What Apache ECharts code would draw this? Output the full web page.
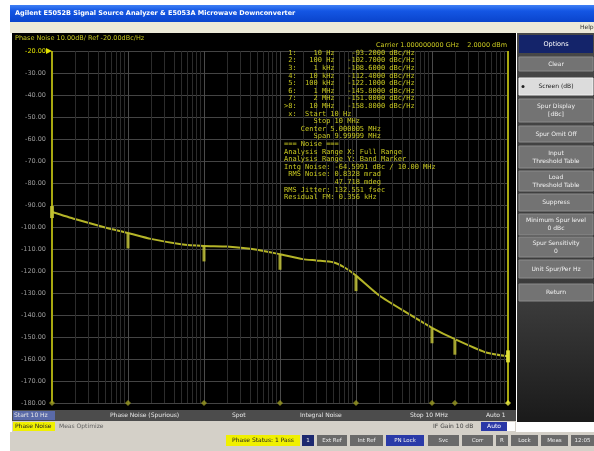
<!DOCTYPE html>
<html>
<head>
<meta charset="utf-8">
<script src="https://cdn.jsdelivr.net/npm/echarts@6/dist/echarts.min.js"></script>
<style>
html,body{margin:0;padding:0;background:#fff;}
#c{width:594px;height:451px;}
</style>
</head>
<body>
<div id="c"></div>
<script>
// Offset frequency (Hz) and measured SSB phase noise (dBc/Hz)
const offsetHz = [10, 20, 50, 100, 200, 500, 1e3, 2e3, 5e3, 1e4, 2e4, 3e4, 5e4, 7e4,
                  1e5, 2e5, 5e5, 1e6, 2e6, 5e6, 1e7];
const noiseDbc = [-93.2, -96.4, -100.2, -102.7, -105.4, -107.8, -108.6, -108.9, -110.3,
                  -112.4, -114.6, -115.2, -116.0, -118.3, -122.1, -131.0, -139.6, -145.8,
                  -151.0, -156.9, -158.8];

// Marker positions (offsets) and their display labels
const markerHz = [10, 100, 1e3, 1e4, 1e5, 1e6, 2e6, 1e7];
const markerFreqText = ['10 Hz', '100 Hz', '1 kHz', '10 kHz', '100 kHz', '1 MHz', '2 MHz', '10 MHz'];
const activeMarker = 8;

// Y scale
const refLevel = -20, bottomLevel = -180, dbPerDiv = 10;
const carrierHz = 1e9;

// Softkey labels of the right-hand menu
const softkeys = ['Clear', 'Screen (dB)', 'Spur Display\n[dBc]', 'Spur Omit Off',
  'Input\nThreshold Table', 'Load\nThreshold Table', 'Suppress',
  'Minimum Spur level\n0 dBc', 'Spur Sensitivity\n0', 'Unit Spur/Per Hz', 'Return'];

const YEL = '#c8c820';

function valueAt(f) {
  const i = offsetHz.indexOf(f);
  return noiseDbc[i];
}

// integrate phase noise over the measured span (piecewise power law)
function integrate(order) {
  let s = 0;
  for (let i = 0; i < offsetHz.length - 1; i++) {
    const f1 = offsetHz[i], f2 = offsetHz[i + 1];
    const a1 = Math.pow(10, noiseDbc[i] / 10);
    const b = (noiseDbc[i + 1] - noiseDbc[i]) / 10 / Math.log10(f2 / f1);
    const p = b + 1 + order;
    const k = a1 * Math.pow(f1, 1 + order);
    s += Math.abs(p) < 1e-9 ? k * Math.log(f2 / f1) : k / p * (Math.pow(f2 / f1, p) - 1);
  }
  return s;
}
const pnInt = integrate(0);
const intgDb = 10 * Math.log10(pnInt);
const rmsRad = Math.sqrt(2 * pnInt);
const rmsDeg = rmsRad * 180 / Math.PI;
const jitterFs = rmsRad / (2 * Math.PI * carrierHz) * 1e15;
const resFm = Math.sqrt(2 * integrate(2));

const tableLines = [];
markerHz.forEach((f, i) => {
  const id = ((i + 1) === activeMarker ? '>' : ' ') + (i + 1) + ':';
  tableLines.push(id + ' ' + markerFreqText[i].padStart(8) + '   ' +
    valueAt(f).toFixed(4).padStart(9) + ' dBc/Hz');
});
tableLines.push(' x:  Start 10 Hz');
tableLines.push('       Stop 10 MHz');
tableLines.push('    Center 5.000005 MHz');
tableLines.push('       Span 9.99999 MHz');
tableLines.push('=== Noise ===');
tableLines.push('Analysis Range X: Full Range');
tableLines.push('Analysis Range Y: Band Marker');
tableLines.push('Intg Noise: ' + intgDb.toFixed(4) + ' dBc / 10.00 MHz');
tableLines.push(' RMS Noise: ' + (rmsRad * 1000).toFixed(4) + ' mrad');
tableLines.push('            ' + (rmsDeg * 1000).toFixed(3) + ' mdeg');
tableLines.push('RMS Jitter: ' + jitterFs.toFixed(3) + ' fsec');
tableLines.push('Residual FM: ' + (resFm / 1000).toFixed(3) + ' kHz');

// minor log grid lines (2..9 per decade)
const minorLines = [];
for (let d = 10; d < 1e7; d *= 10) {
  for (let m = 2; m <= 9; m++) minorLines.push({ xAxis: d * m });
}

const graphics = [];
// window chrome
graphics.push({ type: 'rect', z: -10, shape: { x: 10, y: 5, width: 584, height: 17 },
  style: { fill: new echarts.graphic.LinearGradient(0, 0, 0, 1, [
    { offset: 0, color: '#3f80f5' }, { offset: 0.35, color: '#1456e4' }, { offset: 1, color: '#0a44cc' }]) } });
graphics.push({ type: 'text', z: 50, x: 15, y: 13.5, style: {
  text: 'Agilent E5052B Signal Source Analyzer & E5053A Microwave Downconverter',
  fill: '#ffffff', font: 'bold 6.5px "DejaVu Sans"', textVerticalAlign: 'middle' } });
graphics.push({ type: 'rect', z: -10, shape: { x: 10, y: 22, width: 584, height: 11 },
  style: { fill: '#ece9d8' } });
graphics.push({ type: 'text', z: 50, x: 580, y: 27.5, style: {
  text: 'Help', fill: '#333', font: '6px "DejaVu Sans"', textVerticalAlign: 'middle' } });
// instrument display
graphics.push({ type: 'rect', z: -10, shape: { x: 12, y: 33, width: 504, height: 378 },
  style: { fill: '#000000' } });
graphics.push({ type: 'text', z: 50, x: 15, y: 38.5, style: {
  text: 'Phase Noise 10.00dB/ Ref -20.00dBc/Hz', fill: YEL,
  font: '6.5px "DejaVu Sans"', textVerticalAlign: 'middle' } });
graphics.push({ type: 'text', z: 50, x: 507, y: 45.5, style: {
  text: 'Carrier 1.000000000 GHz    2.0000 dBm', fill: YEL,
  font: '6.5px "DejaVu Sans"', textAlign: 'right', textVerticalAlign: 'middle' } });
graphics.push({ type: 'polygon', z: 50, shape: { points: [[46, 48], [46, 54], [52, 51]] },
  style: { fill: '#e0e000' } });
// marker table
tableLines.forEach((t, i) => {
  graphics.push({ type: 'text', z: 50, x: 284, y: 53 + i * 7.6, style: {
    text: t, fill: YEL, font: '7px "DejaVu Sans Mono"', textVerticalAlign: 'middle' } });
});
// right-hand softkey panel
graphics.push({ type: 'rect', z: -10, shape: { x: 517, y: 33, width: 77, height: 389 },
  style: { fill: new echarts.graphic.LinearGradient(0, 0, 0, 1, [
    { offset: 0, color: '#484848' }, { offset: 0.7, color: '#3a3a3a' }, { offset: 1, color: '#1a1a1a' }]) } });
graphics.push({ type: 'rect', z: -5, shape: { x: 519, y: 35, width: 74, height: 18 },
  style: { fill: '#14246a' } });
graphics.push({ type: 'text', z: 50, x: 556, y: 44, style: {
  text: 'Options', fill: '#ffffff', font: '6.5px "DejaVu Sans"', textAlign: 'center', textVerticalAlign: 'middle' } });
const keyTops = [57, 78, 99, 126, 146, 171, 194, 214, 237, 260, 284];
const keyHeights = [14, 17, 23, 16, 22, 20, 17, 21, 20, 18, 17];
softkeys.forEach((k, i) => {
  const sel = i === 1;
  graphics.push({ type: 'rect', z: -5, shape: { x: 519, y: keyTops[i], width: 74, height: keyHeights[i] },
    style: { fill: sel ? '#dcdcdc' : '#737373', stroke: sel ? '#f0f0f0' : '#8c8c8c', lineWidth: 1 } });
  graphics.push({ type: 'text', z: 50, x: 556, y: keyTops[i] + keyHeights[i] / 2, style: {
    text: k, fill: sel ? '#202020' : '#f2f2f2', font: '6px "DejaVu Sans"', lineHeight: 8,
    textAlign: 'center', textVerticalAlign: 'middle' } });
});
graphics.push({ type: 'circle', z: 50, shape: { cx: 523, cy: 86.5, r: 1.5 }, style: { fill: '#202020' } });
// status rows under the display
graphics.push({ type: 'rect', z: -10, shape: { x: 12, y: 410, width: 504, height: 11 },
  style: { fill: '#4c4c4c' } });
[['Start 10 Hz', 14], ['Phase Noise (Spurious)', 110], ['Spot', 232], ['Integral Noise', 300],
 ['Stop 10 MHz', 410], ['Auto 1', 486]].forEach(([t, x], i) => {
  if (i === 0) graphics.push({ type: 'rect', z: -5, shape: { x: 13, y: 411, width: 42, height: 9 },
    style: { fill: '#5a6aa8' } });
  graphics.push({ type: 'text', z: 50, x: x, y: 415.5, style: {
    text: t, fill: '#e8e8e8', font: '6px "DejaVu Sans"', textVerticalAlign: 'middle' } });
});
graphics.push({ type: 'rect', z: -10, shape: { x: 12, y: 421, width: 504, height: 11 },
  style: { fill: '#d4d0c8' } });
graphics.push({ type: 'rect', z: -5, shape: { x: 13, y: 422, width: 42, height: 9 },
  style: { fill: '#f0f000' } });
graphics.push({ type: 'text', z: 50, x: 15, y: 426.5, style: {
  text: 'Phase Noise', fill: '#202020', font: '6px "DejaVu Sans"', textVerticalAlign: 'middle' } });
graphics.push({ type: 'text', z: 50, x: 59, y: 426.5, style: {
  text: 'Meas Optimize', fill: '#606060', font: '6px "DejaVu Sans"', textVerticalAlign: 'middle' } });
graphics.push({ type: 'text', z: 50, x: 433, y: 426.5, style: {
  text: 'IF Gain 10 dB', fill: '#404040', font: '6px "DejaVu Sans"', textVerticalAlign: 'middle' } });
graphics.push({ type: 'rect', z: -5, shape: { x: 481, y: 422, width: 26, height: 9 },
  style: { fill: '#2a38a8' } });
graphics.push({ type: 'text', z: 50, x: 494, y: 426.5, style: {
  text: 'Auto', fill: '#ffffff', font: '6px "DejaVu Sans"', textAlign: 'center', textVerticalAlign: 'middle' } });
graphics.push({ type: 'rect', z: -5, shape: { x: 507, y: 422, width: 8, height: 9 },
  style: { fill: '#ffffff' } });
graphics.push({ type: 'rect', z: -10, shape: { x: 10, y: 432, width: 584, height: 19 },
  style: { fill: '#d4d0c8' } });
graphics.push({ type: 'rect', z: -5, shape: { x: 226, y: 435, width: 74, height: 11 },
  style: { fill: '#f0f000' } });
graphics.push({ type: 'text', z: 50, x: 263, y: 440.5, style: {
  text: 'Phase Status: 1 Pass', fill: '#202020', font: '6px "DejaVu Sans"', textAlign: 'center', textVerticalAlign: 'middle' } });
[[302, 12, '1', '#1c2870'], [317, 30, 'Ext Ref', '#6a6a6a'], [350, 33, 'Int Ref', '#6a6a6a'],
 [386, 38, 'PN Lock', '#2a3aa8'], [428, 31, 'Svc', '#6a6a6a'], [462, 31, 'Corr', '#6a6a6a'],
 [496, 12, 'R', '#6a6a6a'], [511, 27, 'Lock', '#6a6a6a'], [541, 27, 'Meas', '#6a6a6a'],
 [571, 23, '12:05', '#6a6a6a']].forEach(([x, w, t, c]) => {
  graphics.push({ type: 'rect', z: -5, shape: { x: x, y: 435, width: w, height: 11 }, style: { fill: c } });
  graphics.push({ type: 'text', z: 50, x: x + w / 2, y: 440.5, style: {
    text: t, fill: '#eeeeee', font: '5.5px "DejaVu Sans"', textAlign: 'center', textVerticalAlign: 'middle' } });
});

const chart = echarts.init(document.getElementById('c'));
chart.setOption({
  backgroundColor: '#ffffff',
  animation: false,
  grid: { left: 52, right: 86, top: 51, bottom: 48 },
  xAxis: {
    type: 'log', logBase: 10, min: 10, max: 1e7,
    axisLine: { show: false }, axisTick: { show: false }, axisLabel: { show: false },
    splitLine: { show: true, lineStyle: { color: '#4a4a4a', width: 1 } }
  },
  yAxis: {
    type: 'value', min: bottomLevel, max: refLevel, interval: dbPerDiv,
    axisLine: { show: false }, axisTick: { show: false },
    axisLabel: {
      fontSize: 6.5, fontFamily: 'DejaVu Sans', margin: 6,
      color: v => (Number(v) === refLevel ? '#e0e000' : '#9a9a9a'),
      formatter: v => v.toFixed(2)
    },
    splitLine: { lineStyle: { color: '#444444', width: 1 } }
  },
  graphic: graphics,
  series: [
    {
      // minor decade grid
      type: 'line', data: [], z: 1, silent: true,
      markLine: {
        silent: true, symbol: 'none', label: { show: false },
        lineStyle: { color: '#2c2c2c', type: 'solid', width: 1 },
        data: minorLines
      }
    },
    {
      // analysis range boundaries
      type: 'line', data: [], z: 3, silent: true,
      markLine: {
        silent: true, symbol: 'none', label: { show: false },
        lineStyle: { color: '#a8a810', type: 'solid', width: 2 },
        data: [{ xAxis: offsetHz[0] }, { xAxis: offsetHz[offsetHz.length - 1] }]
      }
    },
    {
      name: 'Phase Noise', type: 'line', z: 4,
      data: offsetHz.map((f, i) => [f, noiseDbc[i]]),
      smooth: 0.2, showSymbol: false,
      lineStyle: { color: '#b4b428', width: 2 }
    },
    {
      // markers on the trace
      type: 'scatter', z: 5,
      data: markerHz.map((f, i) => ({
        value: [f, valueAt(f)],
        symbol: 'rect',
        symbolSize: (i === 0 || i === markerHz.length - 1) ? [4, 12] : [3, 15],
        symbolOffset: (i === 0 || i === markerHz.length - 1) ? [0, 0] : [0, 8],
        itemStyle: { color: (i + 1) === activeMarker ? '#f0f040' : '#c8c838' }
      }))
    },
    {
      // marker position ticks along the bottom edge
      type: 'scatter', z: 5,
      data: markerHz.map((f, i) => ({
        value: [f, bottomLevel],
        itemStyle: { color: (i + 1) === activeMarker ? '#f0f040' : '#9a9a20' }
      })),
      symbol: 'diamond', symbolSize: 6
    }
  ]
});
</script>
</body>
</html>
